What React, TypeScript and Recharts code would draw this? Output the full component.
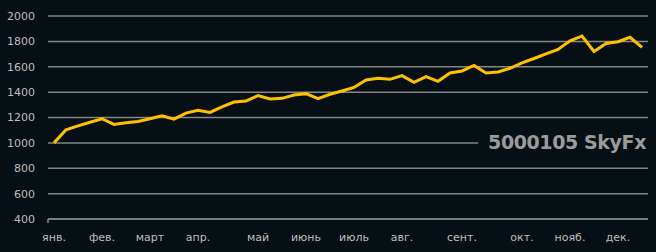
import React from 'react';
import { LineChart, Line, XAxis, YAxis, CartesianGrid } from 'recharts';

// подписи месяцев стоят на первой неделе месяца, остальные недели пустые
const monthLabels = [
  'янв.', '', '', '',
  'фев.', '', '', '',
  'март', '', '', '',
  'апр.', '', '', '', '',
  'май', '', '', '',
  'июнь', '', '', '',
  'июль', '', '', '',
  'авг.', '', '', '', '',
  'сент.', '', '', '', '',
  'окт.', '', '', '',
  'нояб.', '', '', '',
  'дек.', '', '',
];

const balance = [
  1000, 1103, 1134, 1163, 1190, 1145, 1158, 1169, 1190, 1214,
  1187, 1235, 1257, 1240, 1283, 1322, 1330, 1372, 1346, 1351,
  1377, 1388, 1348, 1383, 1409, 1437, 1496, 1509, 1501, 1530,
  1477, 1522, 1485, 1551, 1567, 1610, 1551, 1559, 1588, 1631,
  1665, 1702, 1736, 1805, 1842, 1721, 1784, 1797, 1832, 1752,
];

const yTicks = [400, 600, 800, 1000, 1200, 1400, 1600, 1800, 2000];

const BG = '#061014';
const GRID = '#858585';
const TEXT = '#bdbdbd';
const GOLD = '#ffc000';

const data = balance.map((v, i) => ({ week: i, label: monthLabels[i], value: v }));

const MonthTick = (props: any) => {
  const { x, y, payload, index } = props;
  return (
    <g>
      {index === 0 && (
        <line x1={x - 6} x2={x - 6} y1={y - 14} y2={y - 10} stroke={GRID} strokeWidth={1.5} />
      )}
      <text x={x} y={y} dy="0.71em" textAnchor="middle" fill={TEXT} fontSize={11} fontFamily="DejaVu Sans">
        {payload.value}
      </text>
    </g>
  );
};

export default function App() {
  return (
    <div style={{ position: 'absolute', left: 0, top: 0, width: 656, height: 252, background: BG }}>
      <LineChart width={656} height={252} data={data} margin={{ top: 16, right: 8, left: 0, bottom: 0 }}>
        <CartesianGrid vertical={false} stroke={GRID} strokeWidth={1.5} />
        <XAxis
          dataKey="label"
          interval={0}
          padding={{ left: 6, right: 6 }}
          tickLine={false}
          axisLine={{ stroke: GRID, strokeWidth: 1.5 }}
          tickSize={0}
          tickMargin={14}
          height={33}
          tick={<MonthTick />}
        />
        <YAxis
          domain={[400, 2000]}
          ticks={yTicks}
          width={48}
          axisLine={false}
          tickLine={false}
          tickSize={0}
          tickMargin={13}
          tick={{ fill: TEXT, fontSize: 11, fontFamily: 'DejaVu Sans' }}
        />
        <Line
          type="linear"
          dataKey="value"
          stroke={GOLD}
          strokeWidth={3}
          dot={false}
          isAnimationActive={false}
        />
      </LineChart>
      <div
        style={{
          position: 'absolute',
          left: 478,
          top: 128,
          width: 168,
          height: 28,
          paddingRight: 2,
          background: BG,
          color: '#9b9b9b',
          fontFamily: 'DejaVu Sans',
          fontWeight: 'bold',
          fontSize: 19,
          lineHeight: '28px',
          textAlign: 'right',
          letterSpacing: -0.4,
        }}
      >
        5000105 SkyFx
      </div>
    </div>
  );
}
